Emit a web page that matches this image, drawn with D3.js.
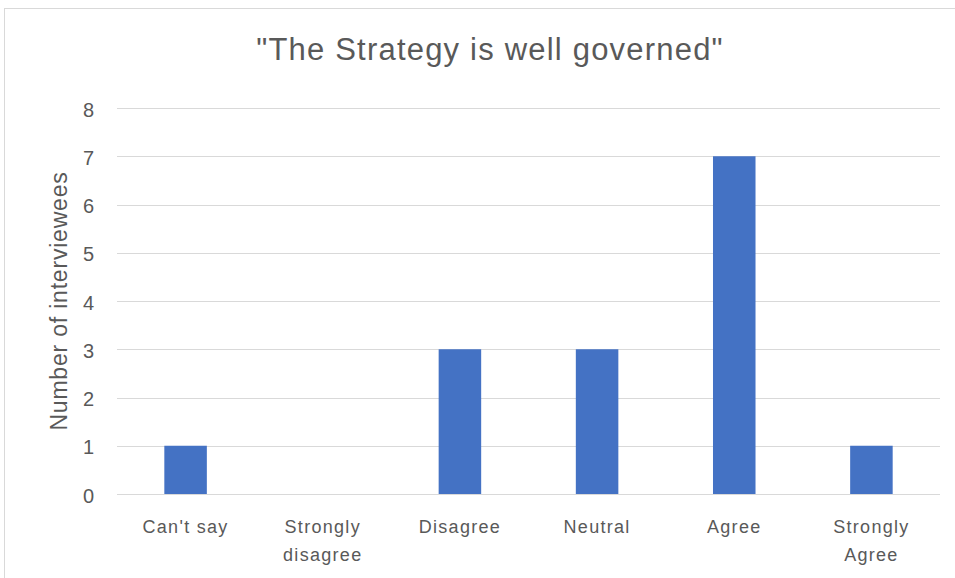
<!DOCTYPE html>
<html>
<head>
<meta charset="utf-8">
<script src="https://cdn.jsdelivr.net/npm/d3@7"></script>
<style>
  html, body { margin: 0; padding: 0; background: #fff; }
  svg { display: block; }
  text { font-family: "Liberation Sans", "DejaVu Sans", sans-serif; fill: #595959; }
</style>
</head>
<body>
<svg id="chart" width="955" height="578"></svg>
<script>
// Survey responses
const categories = ["Can't say", "Strongly disagree", "Disagree", "Neutral", "Agree", "Strongly Agree"];
const labelLines = [["Can't say"], ["Strongly", "disagree"], ["Disagree"], ["Neutral"], ["Agree"], ["Strongly", "Agree"]];
const counts = [1, 0, 3, 3, 7, 1];
const yTicks = [0, 1, 2, 3, 4, 5, 6, 7, 8];
const title = "\"The Strategy is well governed\"";
const yTitle = "Number of interviewees";

const W = 955, H = 578;
const plot = { left: 117, right: 940, top: 108, bottom: 494 };

const svg = d3.select("#chart");

// chart frame
svg.append("rect")
  .attr("x", 4.5).attr("y", 8.5)
  .attr("width", W + 10).attr("height", H + 10)
  .attr("fill", "#fff").attr("stroke", "#d9d9d9").attr("stroke-width", 1);

const x = d3.scaleBand().domain(categories).range([plot.left, plot.right]).paddingInner(0.69).paddingOuter(0.345);
const y = d3.scaleLinear().domain([0, 8]).range([plot.bottom, plot.top]);

// gridlines
svg.append("g").selectAll("line").data(yTicks).join("line")
  .attr("x1", plot.left).attr("x2", plot.right)
  .attr("y1", d => Math.round(y(d)) + 0.5).attr("y2", d => Math.round(y(d)) + 0.5)
  .attr("stroke", "#d9d9d9").attr("stroke-width", 1);

// y tick labels
svg.append("g").selectAll("text").data(yTicks).join("text")
  .attr("x", 94).attr("y", d => y(d) + 1.5)
  .attr("text-anchor", "end").attr("dominant-baseline", "central")
  .attr("font-size", 20)
  .text(d => d);

// bars
svg.append("g").selectAll("rect").data(categories).join("rect")
  .attr("x", d => x(d))
  .attr("width", x.bandwidth())
  .attr("y", (d, i) => y(counts[i]))
  .attr("height", (d, i) => y(0) - y(counts[i]))
  .attr("fill", "#4472c4");

// baseline
svg.append("line")
  .attr("x1", plot.left).attr("x2", plot.right)
  .attr("y1", Math.round(y(0)) + 0.5).attr("y2", Math.round(y(0)) + 0.5)
  .attr("stroke", "#d9d9d9").attr("stroke-width", 1);

// category labels
const xl = svg.append("g").selectAll("text").data(categories).join("text")
  .attr("text-anchor", "middle")
  .attr("font-size", 18)
  .attr("letter-spacing", 1.3)
  .attr("transform", d => `translate(${x(d) + x.bandwidth() / 2},533)`);
xl.selectAll("tspan").data((d, i) => labelLines[i]).join("tspan")
  .attr("x", 0).attr("dy", (d, j) => j === 0 ? 0 : 28)
  .text(d => d);

// title
svg.append("text")
  .attr("x", 490).attr("y", 60)
  .attr("text-anchor", "middle")
  .attr("font-size", 31)
  .attr("letter-spacing", 1.2)
  .text(title);

// y axis title
svg.append("text")
  .attr("transform", `translate(67,${(plot.top + plot.bottom) / 2}) rotate(-90)`)
  .attr("text-anchor", "middle")
  .attr("font-size", 23)
  .attr("letter-spacing", 0.8)
  .text(yTitle);
</script>
</body>
</html>
